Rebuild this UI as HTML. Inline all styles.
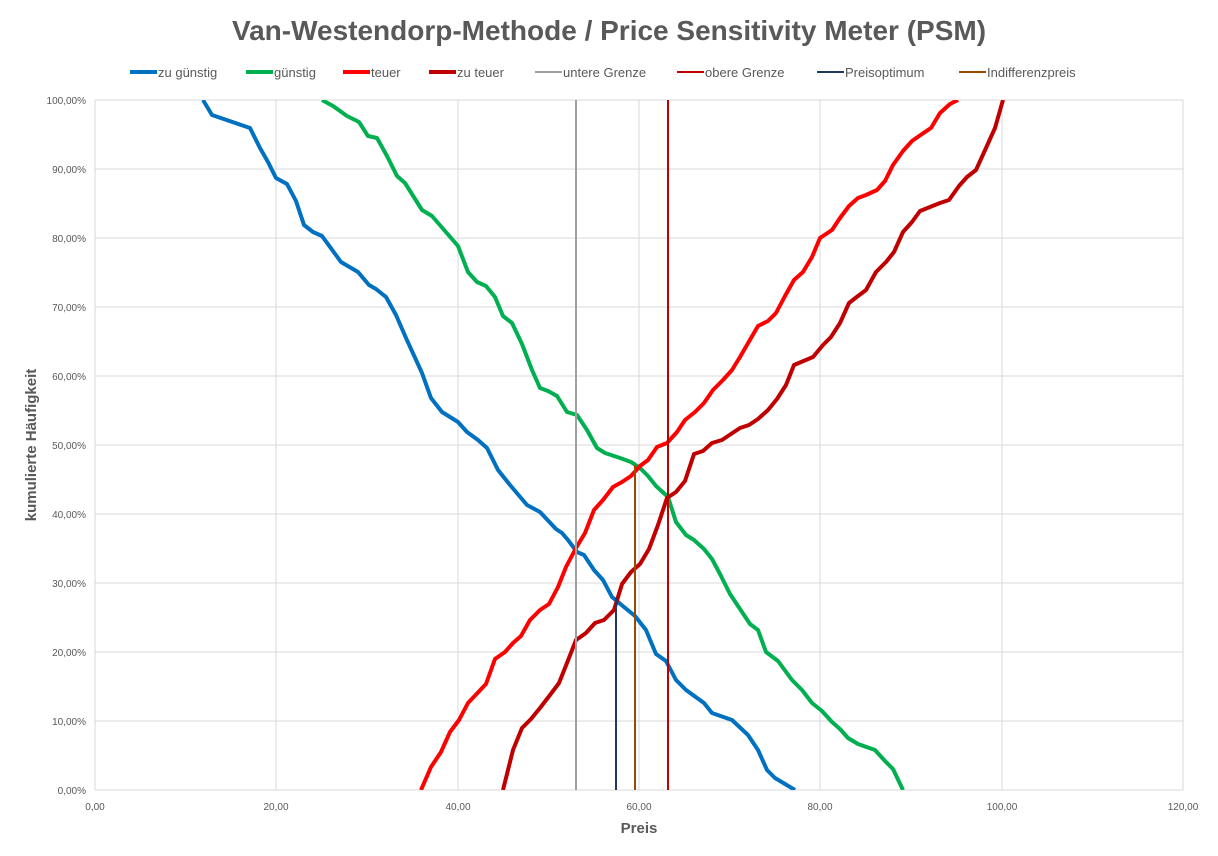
<!DOCTYPE html>
<html><head><meta charset="utf-8"><style>
body{margin:0;background:#fff;}
svg{display:block;font-family:"Liberation Sans",sans-serif;}
</style></head><body>
<svg width="1218" height="856" viewBox="0 0 1218 856">
<rect width="1218" height="856" fill="#fff"/>
<text x="609" y="40" text-anchor="middle" font-size="28" font-weight="bold" fill="#595959">Van-Westendorp-Methode / Price Sensitivity Meter (PSM)</text>
<g font-size="13" fill="#595959">
<line x1="130" y1="72" x2="157" y2="72" stroke="#0070C0" stroke-width="4"/><text x="158" y="77">zu günstig</text>
<line x1="246" y1="72" x2="273" y2="72" stroke="#00B050" stroke-width="4"/><text x="274" y="77">günstig</text>
<line x1="343" y1="72" x2="370" y2="72" stroke="#FF0000" stroke-width="4"/><text x="371" y="77">teuer</text>
<line x1="429" y1="72" x2="456" y2="72" stroke="#C00000" stroke-width="4"/><text x="457" y="77">zu teuer</text>
<line x1="535" y1="72" x2="562" y2="72" stroke="#A0A0A0" stroke-width="2"/><text x="563" y="77">untere Grenze</text>
<line x1="677" y1="72" x2="704" y2="72" stroke="#C00000" stroke-width="2"/><text x="705" y="77">obere Grenze</text>
<line x1="817" y1="72" x2="844" y2="72" stroke="#1F3864" stroke-width="2"/><text x="845" y="77">Preisoptimum</text>
<line x1="959" y1="72" x2="986" y2="72" stroke="#9C4A00" stroke-width="2"/><text x="987" y="77">Indifferenzpreis</text>
</g>
<g stroke="#d9d9d9" stroke-width="1">
<line x1="95" y1="100" x2="1183" y2="100"/><line x1="95" y1="169" x2="1183" y2="169"/><line x1="95" y1="238" x2="1183" y2="238"/><line x1="95" y1="307" x2="1183" y2="307"/><line x1="95" y1="376" x2="1183" y2="376"/><line x1="95" y1="445" x2="1183" y2="445"/><line x1="95" y1="514" x2="1183" y2="514"/><line x1="95" y1="583" x2="1183" y2="583"/><line x1="95" y1="652" x2="1183" y2="652"/><line x1="95" y1="721" x2="1183" y2="721"/><line x1="95" y1="790" x2="1183" y2="790"/>
<line x1="95" y1="100" x2="95" y2="790"/><line x1="276" y1="100" x2="276" y2="790"/><line x1="458" y1="100" x2="458" y2="790"/><line x1="639" y1="100" x2="639" y2="790"/><line x1="820" y1="100" x2="820" y2="790"/><line x1="1002" y1="100" x2="1002" y2="790"/><line x1="1183" y1="100" x2="1183" y2="790"/>
</g>
<g font-size="10" fill="#595959" text-anchor="end">
<text x="86" y="104">100,00%</text><text x="86" y="173">90,00%</text><text x="86" y="242">80,00%</text><text x="86" y="311">70,00%</text><text x="86" y="380">60,00%</text><text x="86" y="449">50,00%</text><text x="86" y="518">40,00%</text><text x="86" y="587">30,00%</text><text x="86" y="656">20,00%</text><text x="86" y="725">10,00%</text><text x="86" y="794">0,00%</text>
</g>
<g font-size="10" fill="#595959" text-anchor="middle">
<text x="95" y="810">0,00</text><text x="276" y="810">20,00</text><text x="458" y="810">40,00</text><text x="639" y="810">60,00</text><text x="820" y="810">80,00</text><text x="1002" y="810">100,00</text><text x="1183" y="810">120,00</text>
</g>
<text x="639" y="833" text-anchor="middle" font-size="15" font-weight="bold" fill="#595959">Preis</text>
<text transform="translate(36,445) rotate(-90)" text-anchor="middle" font-size="15" font-weight="bold" fill="#595959">kumulierte Häufigkeit</text>
<clipPath id="c"><rect x="95" y="100" width="1088" height="690"/></clipPath>
<g clip-path="url(#c)" fill="none" stroke-width="4" stroke-linejoin="round">
<polyline stroke="#0070C0" points="203,100 212,115 250,128 260,148 268,162 276,178 287,184 296,201 304,225 313,232 322,236 341,262 358,272 369,285 376,289 386,297 396,315 406,338 422,373 431,398 442,412 458,422 467,432 478,440 487,448 498,470 510,485 527,505 540,512 556,529 562,533 568,540 577,552 584,555 594,570 603,580 612,597 624,607 635,616 646,630 656,654 666,661 676,680 686,690 704,703 712,713 732,720 748,735 758,750 767,770 775,778 795,790"/>
<polyline stroke="#00B050" points="322,100 333,106 347,116 359,122 368,136 377,138 387,156 397,176 405,183 422,210 432,216 458,246 468,272 477,282 486,286 495,297 503,316 512,323 522,344 532,370 540,388 548,391 557,396 567,412 577,415 587,430 597,448 605,453 620,458 631,462 640,468 648,476 656,486 668,497 676,522 686,535 694,540 704,549 712,559 720,574 730,594 740,609 750,624 758,630 766,652 778,661 792,680 802,690 812,703 822,711 832,722 840,729 848,738 858,744 875,750 885,761 893,769 903,790"/>
<polyline stroke="#FF0000" points="421,790 431,767 441,752 450,732 459,720 468,703 486,684 495,659 505,652 513,643 521,636 530,620 540,610 549,604 558,587 566,567 576,548 585,533 594,510 603,500 613,487 622,482 631,476 640,466 648,460 657,447 667,443 677,432 685,420 695,412 704,403 713,390 723,380 732,370 740,357 758,326 768,321 776,313 785,296 794,280 803,272 812,257 820,238 832,230 840,218 849,206 858,198 866,195 877,190 885,181 893,165 903,151 912,141 922,134 931,128 940,113 950,104 958,100"/>
<polyline stroke="#C00000" points="503,790 513,750 522,728 531,719 540,708 550,695 559,683 567,663 576,640 586,633 595,623 604,620 614,610 622,584 631,572 640,564 649,549 658,525 667,498 676,492 685,481 694,454 703,451 712,443 722,440 740,428 749,425 758,419 768,410 777,399 786,385 794,365 813,357 823,345 831,337 840,323 849,303 858,296 866,290 876,272 886,262 894,252 903,232 912,222 920,211 930,207 940,203 949,200 959,186 967,177 976,170 986,148 995,128 1003,100"/>
</g>
<line x1="576" y1="100" x2="576" y2="790" stroke="#A0A0A0" stroke-width="2"/>
<line x1="668" y1="100" x2="668" y2="790" stroke="#C00000" stroke-width="2"/>
<line x1="616" y1="598" x2="616" y2="790" stroke="#1F3864" stroke-width="2"/>
<line x1="635" y1="465" x2="635" y2="790" stroke="#9C4A00" stroke-width="2"/>
</svg>
</body></html>
